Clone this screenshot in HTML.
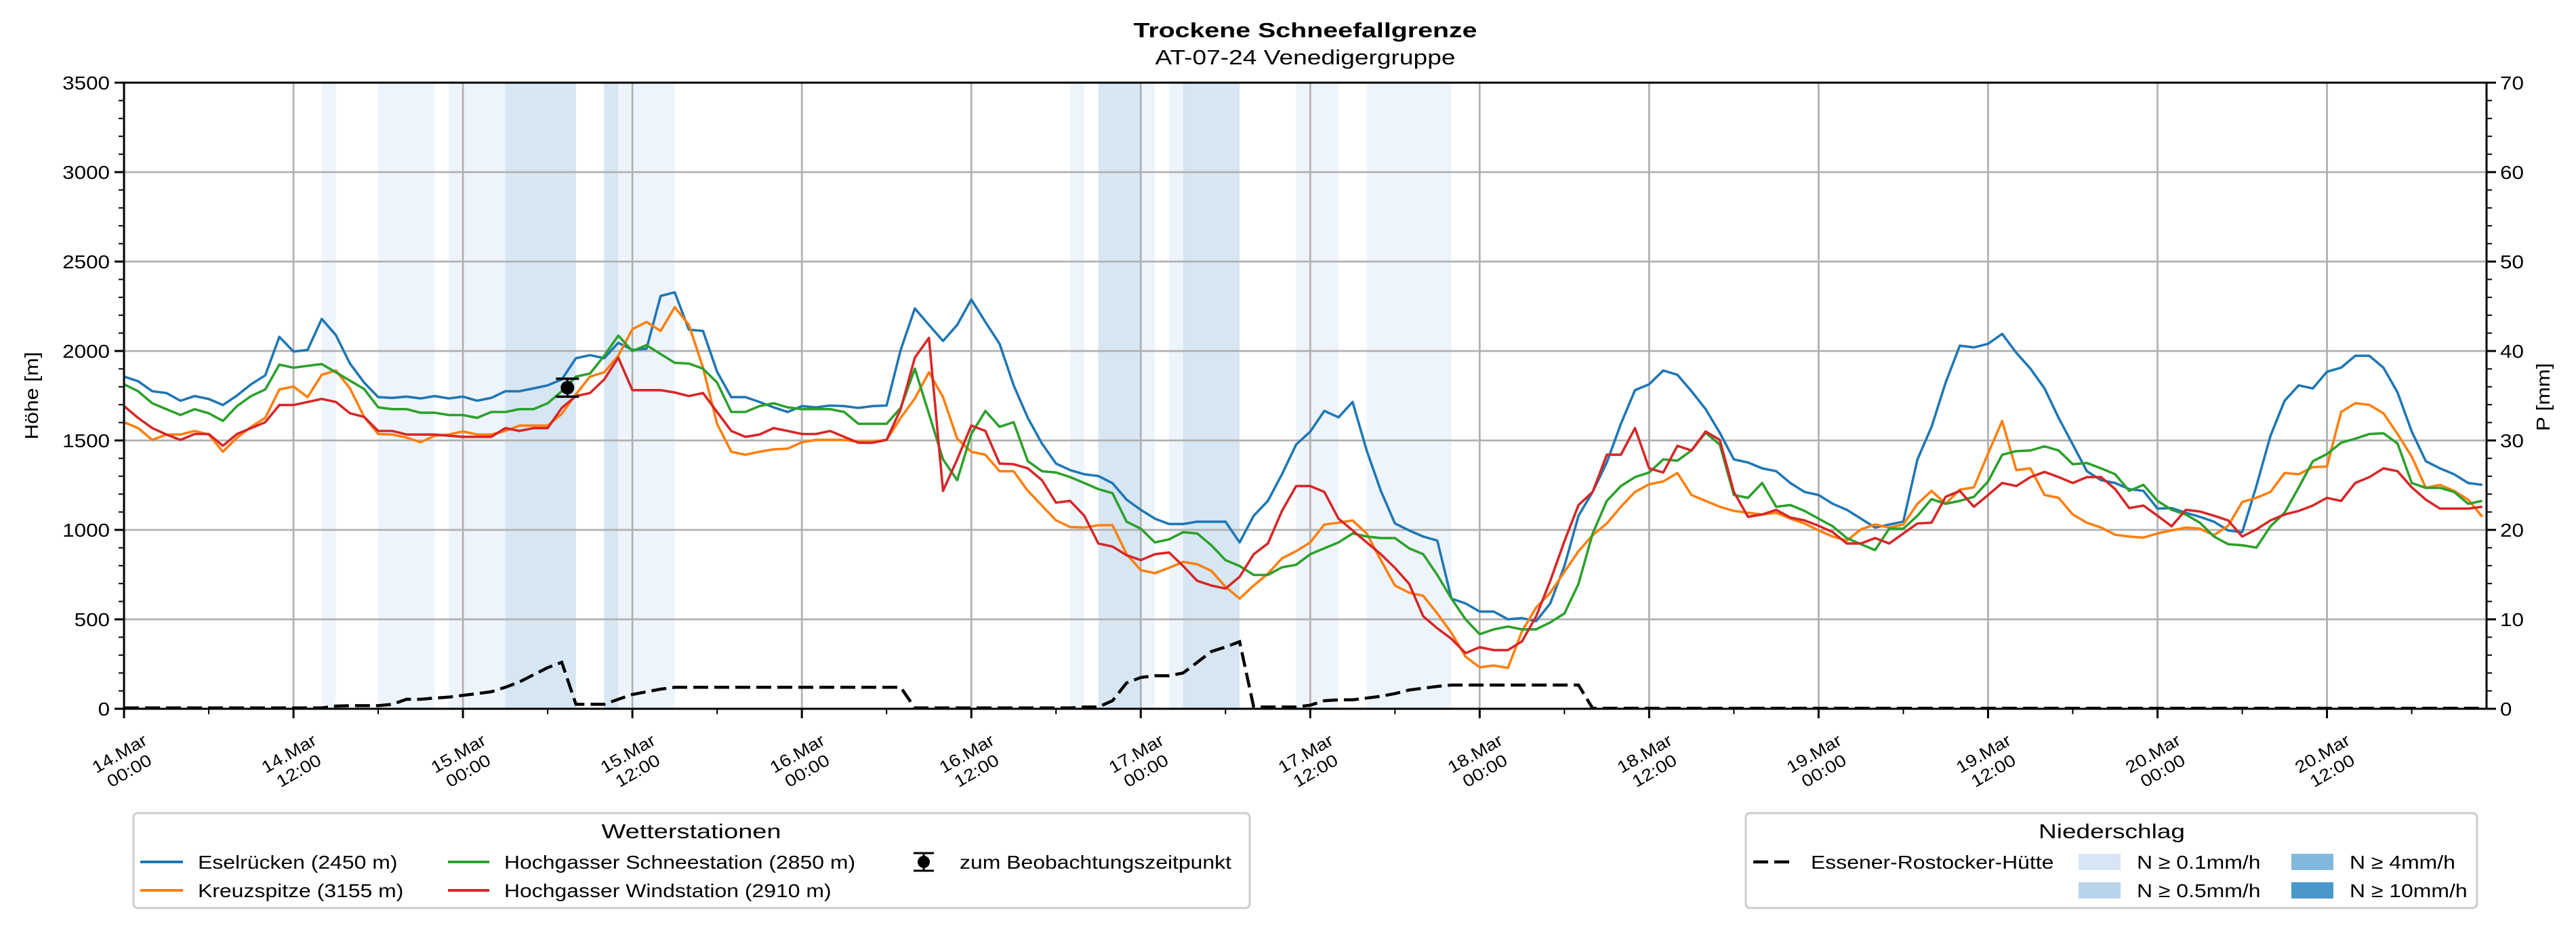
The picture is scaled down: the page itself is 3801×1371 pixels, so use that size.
<!DOCTYPE html>
<html><head><meta charset="utf-8"><style>
html,body{margin:0;padding:0;background:#fff;}
svg{display:block;font-family:"Liberation Sans","DejaVu Sans",sans-serif;}
</style></head><body>
<svg id="chart" xmlns="http://www.w3.org/2000/svg" width="3801" height="1371" viewBox="0 0 3801 1371">
<rect x="0" y="0" width="3801" height="1371" fill="#fff"/>
<g id="bands"></g>
<g id="grid"></g>
<g id="series"></g>
<g id="axes"></g>
<text x="1926" y="55" text-anchor="middle" font-size="31" font-weight="bold" textLength="507" lengthAdjust="spacingAndGlyphs">Trockene Schneefallgrenze</text>
<text x="1926" y="95" text-anchor="middle" font-size="31" textLength="443" lengthAdjust="spacingAndGlyphs">AT-07-24 Venedigergruppe</text>
<text class="w" transform="translate(56,584) rotate(-90)" text-anchor="middle" font-size="28">Höhe [m]</text>
<text class="w" transform="translate(3762,586) rotate(-90)" text-anchor="middle" font-size="28">P [mm]</text>
<g>
<rect x="197" y="1200" width="1647" height="140" rx="6" fill="#fff" stroke="#cccccc" stroke-width="3"/>
<text x="1020" y="1237" text-anchor="middle" font-size="30" textLength="265" lengthAdjust="spacingAndGlyphs">Wetterstationen</text>
<g><line x1="207" y1="1272" x2="270" y2="1272" stroke="#1f77b4" stroke-width="4"/><text class="w" x="292" y="1282" font-size="28">Eselrücken (2450 m)</text></g>
<g><line x1="207" y1="1314" x2="270" y2="1314" stroke="#ff7f0e" stroke-width="4"/><text class="w" x="292" y="1324" font-size="28">Kreuzspitze (3155 m)</text></g>
<g><line x1="661" y1="1272" x2="722" y2="1272" stroke="#2ca02c" stroke-width="4"/><text class="w" x="744" y="1282" font-size="28">Hochgasser Schneestation (2850 m)</text></g>
<g><line x1="661" y1="1314" x2="722" y2="1314" stroke="#d62728" stroke-width="4"/><text class="w" x="744" y="1324" font-size="28">Hochgasser Windstation (2910 m)</text></g>
<g><line x1="1363" y1="1259" x2="1363" y2="1285" stroke="#000" stroke-width="3"/><line x1="1348" y1="1259" x2="1378" y2="1259" stroke="#000" stroke-width="3"/><line x1="1348" y1="1285" x2="1378" y2="1285" stroke="#000" stroke-width="3"/><circle cx="1363" cy="1272" r="9" fill="#000"/><text class="w" x="1416" y="1282" font-size="28">zum Beobachtungszeitpunkt</text></g>
</g>
<g>
<rect x="2576" y="1200" width="1079" height="140" rx="6" fill="#fff" stroke="#cccccc" stroke-width="3"/>
<text x="3116" y="1237" text-anchor="middle" font-size="30" textLength="216" lengthAdjust="spacingAndGlyphs">Niederschlag</text>
<g><line x1="2587" y1="1272" x2="2643" y2="1272" stroke="#000" stroke-width="4.5" stroke-dasharray="22 9"/><text class="w" x="2672" y="1282" font-size="28">Essener-Rostocker-Hütte</text></g>
<g><rect x="3067" y="1260" width="62" height="24" fill="#d6e6f4"/><text class="w" x="3153" y="1282" font-size="28">N ≥ 0.1mm/h</text></g>
<g><rect x="3067" y="1302" width="62" height="24" fill="#b8d4ea"/><text class="w" x="3153" y="1324" font-size="28">N ≥ 0.5mm/h</text></g>
<g><rect x="3381" y="1260" width="62" height="24" fill="#82b8db"/><text class="w" x="3467" y="1282" font-size="28">N ≥ 4mm/h</text></g>
<g><rect x="3381" y="1302" width="62" height="24" fill="#4a98c9"/><text class="w" x="3467" y="1324" font-size="28">N ≥ 10mm/h</text></g>
</g>
</svg>
<script>
const eselruecken = [1857,1831,1775,1765,1722,1748,1732,1698,1751,1814,1864,2079,1997,2006,2179,2089,1930,1824,1742,1738,1745,1735,1748,1735,1745,1722,1738,1775,1775,1791,1808,1841,1960,1977,1960,2046,2006,2013,2308,2328,2119,2112,1884,1742,1742,1715,1685,1659,1692,1685,1695,1692,1682,1692,
1695,2006,2238,2146,2056,2146,2288,2162,2040,1808,1626,1483,1371,1334,1311,1301,1261,1169,1112,1063,1033,1033,1046,1046,1046,930,1079,1162,1311,1477,1549,1665,1629,1715,1444,1218,1036,997,963,940,616,589,543,543,500,507,490,589,798,1079,1212,1377,1593,1781,1814,1891,1867,
1775,1675,1543,1394,1377,1344,1328,1262,1212,1195,1146,1112,1063,1013,1030,1046,1394,1576,1824,2030,2020,2040,2096,1990,1901,1791,1626,1477,1328,1278,1262,1228,1218,1119,1122,1096,1073,1046,997,987,1245,1526,1722,1808,1791,1884,1907,1973,1973,1907,1768,1550,1384,1344,1311,1262,1252];
const kreuzspitze = [1602,1569,1503,1533,1533,1553,1533,1437,1516,1576,1626,1785,1801,1742,1867,1891,1791,1632,1536,1533,1516,1490,1526,1533,1550,1533,1533,1553,1583,1583,1583,1649,1758,1857,1881,1973,2122,2162,2112,2245,2146,1907,1593,1437,1420,1437,1450,1454,1490,1503,1503,1503,1493,1493,
1503,1626,1735,1881,1742,1510,1437,1420,1328,1328,1218,1136,1053,1016,1013,1026,1026,864,775,758,788,821,808,771,682,616,689,755,841,881,930,1030,1040,1053,980,831,689,649,632,533,424,291,232,242,228,434,566,649,765,881,970,1036,1129,1212,1255,1271,1318,
1195,1162,1129,1106,1096,1086,1096,1063,1036,997,963,940,1003,1030,1013,1030,1146,1218,1146,1225,1238,1427,1609,1334,1344,1195,1179,1086,1040,1013,973,963,957,980,997,1013,1007,970,1023,1156,1179,1212,1318,1311,1351,1354,1659,1708,1699,1652,1536,1410,1235,1252,1218,1169,1073];
const schneestation = [1814,1775,1708,1675,1642,1675,1652,1609,1692,1748,1785,1924,1907,1917,1927,1881,1834,1788,1685,1675,1675,1655,1655,1642,1642,1626,1659,1659,1675,1675,1708,1775,1857,1874,1973,2086,2000,2033,1983,1934,1930,1901,1824,1659,1659,1692,1708,1685,1675,1675,1675,1659,1593,1593,
1593,1682,1901,1649,1394,1278,1536,1665,1576,1602,1384,1328,1321,1295,1262,1228,1205,1046,1007,930,947,987,980,914,831,798,748,748,791,805,864,897,930,980,963,954,954,897,864,748,616,500,417,444,460,444,444,483,533,699,980,1162,1245,1295,1321,1394,1387,
1444,1543,1477,1195,1179,1262,1129,1139,1106,1063,1020,954,920,887,1007,1007,1079,1172,1146,1162,1185,1271,1420,1440,1444,1467,1444,1367,1374,1344,1311,1218,1252,1162,1112,1086,1040,963,920,914,901,1020,1096,1238,1384,1424,1487,1510,1536,1540,1483,1262,1235,1235,1212,1146,1162];
const windstation = [1692,1626,1569,1533,1503,1536,1536,1470,1536,1569,1602,1698,1698,1715,1732,1715,1652,1632,1553,1553,1533,1533,1533,1526,1520,1520,1520,1569,1553,1569,1569,1682,1748,1765,1841,1963,1781,1781,1781,1768,1748,1765,1659,1553,1520,1533,1569,1553,1536,1536,1553,1520,1487,1487,
1503,1675,1963,2073,1218,1394,1583,1553,1371,1367,1344,1278,1152,1162,1079,924,907,858,831,864,874,798,715,689,672,738,864,924,1106,1245,1245,1212,1063,997,930,864,788,699,517,450,391,311,344,328,328,377,517,715,937,1139,1212,1420,1420,1569,1344,1321,1470,
1444,1550,1503,1212,1073,1086,1112,1069,1053,1023,987,924,924,954,924,980,1036,1040,1185,1218,1129,1195,1262,1245,1295,1324,1295,1262,1295,1295,1228,1122,1136,1079,1020,1112,1103,1079,1053,963,1003,1053,1086,1106,1136,1179,1162,1262,1295,1344,1328,1238,1169,1119,1119,1119,1129];
const precip = [0.1,0.1,0.1,0.1,0.1,0.1,0.1,0.1,0.1,0.1,0.1,0.1,0.1,0.1,0.1,
0.3,0.35,0.35,0.35,0.5,
1.06,1.06,1.2,1.3,1.5,1.7,1.9,2.4,3.0,3.8,4.6,5.2,
0.5,0.5,0.5,1.06,1.6,1.9,2.2,
2.4,2.4,2.4,2.4,2.4,2.4,2.4,2.4,2.4,2.4,2.4,2.4,2.4,2.4,2.4,2.4,2.4,
0.1,0.1,0.1,0.1,0.1,0.1,0.1,0.1,0.1,0.1,0.1,0.1,
0.2,0.2,0.9,2.9,3.5,3.7,3.7,4.0,5.2,6.4,6.9,7.5,
0.2,0.2,0.2,0.2,0.4,0.9,1.0,1.0,1.2,1.4,1.7,2.1,2.3,2.5,
2.65,2.65,2.65,2.65,2.65,2.65,2.65,2.65,2.65,2.65,
0.05,0.05,0.05,0.05,0.05,0.05,0.05,0.05,0.05,0.05,0.05,0.05,0.05,0.05,0.05,0.05,0.05,0.05,0.05,0.05,0.05,0.05,0.05,0.05,0.05,0.05,0.05,0.05,0.05,0.05,0.05,0.05,0.05,0.05,0.05,0.05,0.05,0.05,0.05,0.05,0.05,0.05,0.05,0.05,0.05,0.05,0.05,0.05,0.05,0.05,0.05,0.05,0.05,0.05,0.05,0.05,0.05,0.05,0.05,0.05,0.05,0.05,0.05,0.05];
const bandStart = [14,18,23,27,34,35,67,69,72,74,75,83,88];
const bandEnd = [15,22,27,32,35,39,68,72,73,75,79,86,94];
const bandLevel = [1,1,1,2,2,1,1,2,1,1,2,1,1];
const obsHour = [31.4];
const obsValue = [1795];
const obsError = [50];
const xTickDays = ["14.Mar","14.Mar","15.Mar","15.Mar","16.Mar","16.Mar","17.Mar","17.Mar","18.Mar","18.Mar","19.Mar","19.Mar","20.Mar","20.Mar"];
const xTickTimes = ["00:00","12:00","00:00","12:00","00:00","12:00","00:00","12:00","00:00","12:00","00:00","12:00","00:00","12:00"];
const yTicks = [0,500,1000,1500,2000,2500,3000,3500];
const y2Ticks = [0,10,20,30,40,50,60,70];

const NS = "http://www.w3.org/2000/svg";
const L = 183, R = 3669, T = 122, B = 1046;
const HMAX = 167.3, YMAX = 3500, PMAX = 70;
function xs(h){ return L + h * (R - L) / HMAX; }
function ys(v){ return B - v * (B - T) / YMAX; }
function yp(p){ return B - p * (B - T) / PMAX; }
function mk(tag, attrs, parent){
  const e = document.createElementNS(NS, tag);
  for (const k in attrs) e.setAttribute(k, attrs[k]);
  parent.appendChild(e);
  return e;
}
const gB = document.getElementById('bands'), gG = document.getElementById('grid'),
      gS = document.getElementById('series'), gA = document.getElementById('axes');

bandStart.forEach((s, i) => {
  const r = mk('rect', {x: xs(s), y: T, width: xs(bandEnd[i]) - xs(s), height: B - T,
    fill: bandLevel[i] === 2 ? '#d6e6f3' : '#eef4fb'}, gB);
  
  
});

xTickDays.forEach((d, i) => {
  const x = xs(i * 12);
  const g = mk('line', {x1: x, y1: T, x2: x, y2: B, stroke: '#b0b0b0', 'stroke-width': 2.7}, gG);
  
  
});
yTicks.forEach(v => {
  const y = ys(v);
  const g = mk('line', {x1: L, y1: y, x2: R, y2: y, stroke: '#b0b0b0', 'stroke-width': 2.7}, gG);
  
  
});

function drawLine(arr, color, name){
  const d = arr.map((v, h) => (h ? 'L' : 'M') + xs(h).toFixed(1) + ',' + ys(v).toFixed(1)).join('');
  const p = mk('path', {d: d, fill: 'none', stroke: color, 'stroke-width': 3.6, 'stroke-linejoin': 'round'}, gS);
  
  
}
drawLine(eselruecken, '#1f77b4', 'line-eselruecken');
drawLine(kreuzspitze, '#ff7f0e', 'line-kreuzspitze');
drawLine(schneestation, '#2ca02c', 'line-hochgasser-schneestation');
drawLine(windstation, '#d62728', 'line-hochgasser-windstation');

const pd = precip.map((v, h) => (h ? 'L' : 'M') + xs(h).toFixed(1) + ',' + yp(v).toFixed(1)).join('');
const pp = mk('path', {d: pd, fill: 'none', stroke: '#000', 'stroke-width': 4.5, 'stroke-dasharray': '22 9'}, gS);



obsHour.forEach((h, i) => {
  const x = xs(h), y0 = ys(obsValue[i] - obsError[i]), y1 = ys(obsValue[i] + obsError[i]);
  const g = mk('g', {}, gS);
  
  
  mk('line', {x1: x, y1: y0, x2: x, y2: y1, stroke: '#000', 'stroke-width': 3}, g);
  mk('line', {x1: x - 17, y1: y0, x2: x + 17, y2: y0, stroke: '#000', 'stroke-width': 3.5}, g);
  mk('line', {x1: x - 17, y1: y1, x2: x + 17, y2: y1, stroke: '#000', 'stroke-width': 3.5}, g);
  mk('circle', {cx: x, cy: ys(obsValue[i]), r: 10, fill: '#000'}, g);
});

const fr = mk('rect', {x: L, y: T, width: R - L, height: B - T, fill: 'none', stroke: '#000', 'stroke-width': 3}, gA);



for (let h = 0; h <= 162; h += 6) {
  const major = h % 12 === 0;
  const t = mk('line', {x1: xs(h), y1: B, x2: xs(h), y2: B + (major ? 14 : 8), stroke: '#000', 'stroke-width': major ? 3 : 2}, gA);
  
  
}
xTickDays.forEach((d, i) => {
  const x = xs(i * 12), cy = 1124;
  const g = mk('g', {transform: 'translate(' + x + ',' + cy + ') rotate(-30)'}, gA);
  
  
  const a = mk('text', {x: 0, y: -5, 'text-anchor': 'middle', 'font-size': 25, class: 'w'}, g);
  a.textContent = d;
  const b = mk('text', {x: 0, y: 24, 'text-anchor': 'middle', 'font-size': 25, class: 'w'}, g);
  b.textContent = xTickTimes[i];
});

for (let v = 0; v <= YMAX; v += 100) {
  const major = v % 500 === 0;
  const t = mk('line', {x1: L, y1: ys(v), x2: L - (major ? 14 : 8), y2: ys(v), stroke: '#000', 'stroke-width': major ? 3 : 2}, gA);
  
  
}
yTicks.forEach(v => {
  const t = mk('text', {x: 162, y: ys(v) + 10, 'text-anchor': 'end', 'font-size': 27.5, class: 'w'}, gA);
  
  
  t.textContent = v;
});
for (let p = 0; p <= PMAX; p += 2) {
  const major = p % 10 === 0;
  const t = mk('line', {x1: R, y1: yp(p), x2: R + (major ? 14 : 8), y2: yp(p), stroke: '#000', 'stroke-width': major ? 3 : 2}, gA);
  
  
}
y2Ticks.forEach(p => {
  const t = mk('text', {x: 3689, y: yp(p) + 10, 'text-anchor': 'start', 'font-size': 27.5, class: 'w'}, gA);
  
  
  t.textContent = p;
});

document.querySelectorAll('text.w').forEach(t => {
  const w = t.getComputedTextLength();
  if (w > 0) {
    t.setAttribute('textLength', (w * 1.14).toFixed(1));
    t.setAttribute('lengthAdjust', 'spacingAndGlyphs');
  }
});
</script>
</body></html>
